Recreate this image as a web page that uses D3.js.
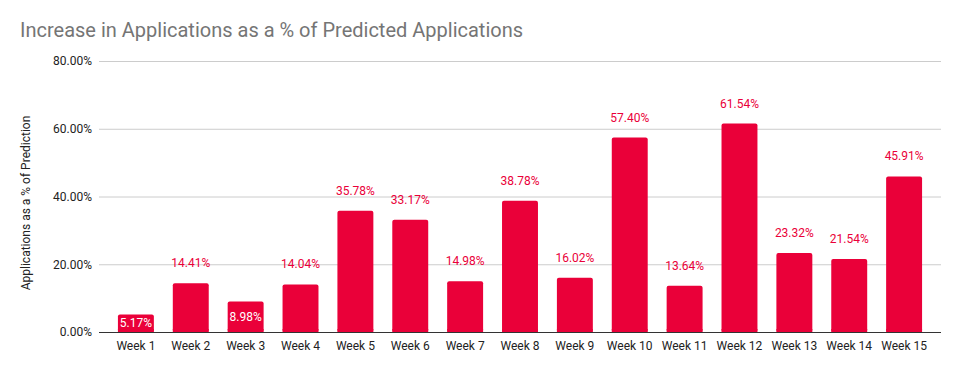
<!DOCTYPE html>
<html>
<head>
<meta charset="utf-8">
<script src="https://cdn.jsdelivr.net/npm/d3@7"></script>
<style>
  body { margin: 0; background: #fff; }
  svg { font-family: Roboto, Arial, sans-serif; }
</style>
</head>
<body>
<svg id="chart" width="960" height="371"></svg>
<script>
// chart data
var weeks = ["Week 1", "Week 2", "Week 3", "Week 4", "Week 5", "Week 6", "Week 7", "Week 8",
             "Week 9", "Week 10", "Week 11", "Week 12", "Week 13", "Week 14", "Week 15"];
var increase = [0.0517, 0.1441, 0.0898, 0.1404, 0.3578, 0.3317, 0.1498, 0.3878,
                0.1602, 0.5740, 0.1364, 0.6154, 0.2332, 0.2154, 0.4591];
var yTicks = [0, 0.2, 0.4, 0.6, 0.8];

var barColor = "#ea0039";
var svg = d3.select("#chart");

var x = d3.scaleBand().domain(weeks).range([108.6, 931.4]).paddingInner(0.345).paddingOuter(0.17);
var y = d3.scaleLinear().domain([0, 0.8]).range([332, 61]);
var fmt = d3.format(".2%");

svg.append("text")
    .attr("x", 20)
    .attr("y", 37)
    .attr("font-size", "20px")
    .attr("fill", "#757575")
    .text("Increase in Applications as a % of Predicted Applications");

// gridlines + tick labels
var yAxis = svg.append("g")
    .attr("transform", "translate(99,0)")
    .call(d3.axisLeft(y).tickValues(yTicks).tickFormat(fmt).tickSize(-842).tickPadding(7));
yAxis.select(".domain").remove();
yAxis.selectAll(".tick line").attr("stroke", "#cccccc");
yAxis.selectAll(".tick text").attr("font-size", "12px").attr("fill", "#222").attr("font-family", "Roboto, Arial, sans-serif");

svg.append("text")
    .attr("transform", "translate(30,203) rotate(-90)")
    .attr("text-anchor", "middle")
    .attr("font-size", "12px")
    .attr("fill", "#222")
    .text("Applications as a % of Prediction");

svg.selectAll(".bar")
    .data(increase)
    .enter()
    .append("rect")
    .attr("class", "bar")
    .attr("x", (d, i) => x(weeks[i]))
    .attr("y", d => y(d))
    .attr("width", x.bandwidth())
    .attr("height", d => y(0) - y(d))
    .attr("rx", 2)
    .attr("fill", barColor);

// square off the rounded corners at the base
svg.selectAll(".barbase")
    .data(increase)
    .enter()
    .append("rect")
    .attr("x", (d, i) => x(weeks[i]))
    .attr("y", d => Math.max(y(d) + 2, y(0) - 3))
    .attr("width", x.bandwidth())
    .attr("height", d => y(0) - Math.max(y(d) + 2, y(0) - 3))
    .attr("fill", barColor);

svg.append("line")
    .attr("x1", 99).attr("x2", 941)
    .attr("y1", 332.5).attr("y2", 332.5)
    .attr("stroke", "#333").attr("stroke-width", 1);

svg.selectAll(".lbl")
    .data(increase)
    .enter()
    .append("text")
    .attr("class", "lbl")
    .attr("x", (d, i) => x(weeks[i]) + x.bandwidth() / 2)
    .attr("y", d => d < 0.1 ? (y(d) + y(0)) / 2 + 4 : y(d) - 16)
    .attr("text-anchor", "middle")
    .attr("font-size", "12px")
    .attr("fill", d => d < 0.1 ? "#fff" : barColor)
    .text(d => fmt(d));

svg.append("g")
    .selectAll("text")
    .data(weeks)
    .enter()
    .append("text")
    .attr("x", d => x(d) + x.bandwidth() / 2)
    .attr("y", 350)
    .attr("text-anchor", "middle")
    .attr("font-size", "12px")
    .attr("fill", "#222")
    .text(d => d);
</script>
</body>
</html>
